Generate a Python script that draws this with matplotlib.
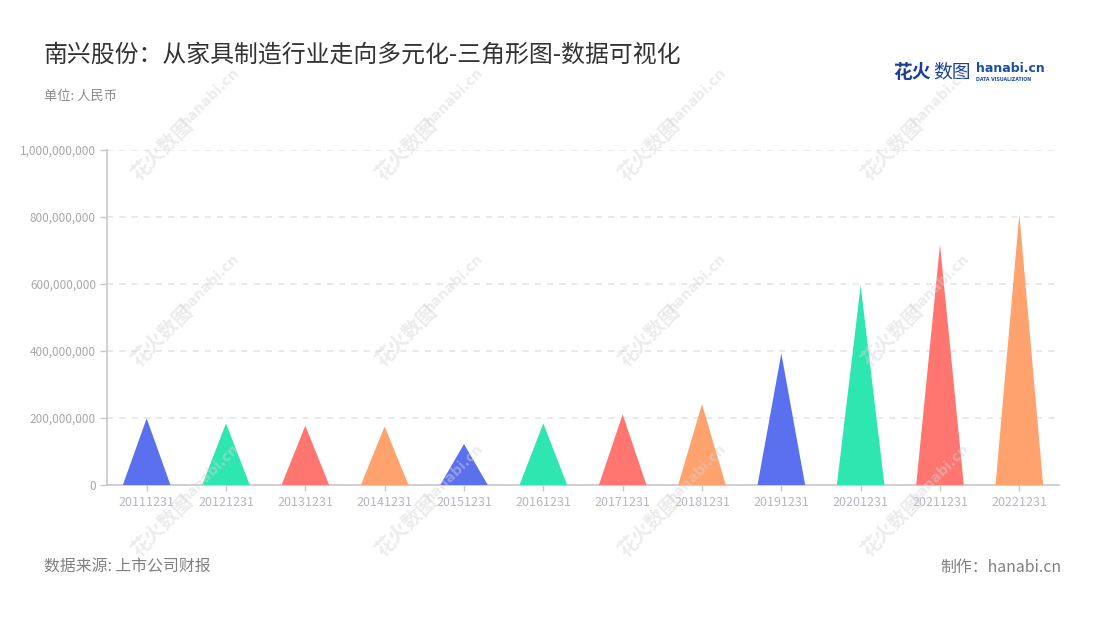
import matplotlib
matplotlib.use("Agg")
import matplotlib.pyplot as plt
import numpy as np
from matplotlib.ticker import FuncFormatter

plt.rcParams['font.family'] = ['Noto Sans CJK SC', 'DejaVu Sans']

categories = ['20111231', '20121231', '20131231', '20141231', '20151231', '20161231',
              '20171231', '20181231', '20191231', '20201231', '20211231', '20221231']
values = [198.5e6, 183.6e6, 176.6e6, 174.6e6, 122e6, 183.6e6,
          210.4e6, 241e6, 392e6, 595e6, 717e6, 806.5e6]
palette = ['#5A70EE', '#2DE6B0', '#FF7670', '#FFA26E']
yticks = [0, 200e6, 400e6, 600e6, 800e6, 1000e6]

title = '南兴股份：从家具制造行业走向多元化-三角形图-数据可视化'
subtitle = '单位: 人民币'
source = '数据来源: 上市公司财报'
maker = '制作：hanabi.cn'

W, H = 1100, 620
fig = plt.figure(figsize=(W / 100, H / 100), dpi=100)
fig.patch.set_facecolor('white')

left, right, bottom, top = 107, 1059, 485, 149.5
ax = fig.add_axes([left / W, 1 - bottom / H, (right - left) / W, (bottom - top) / H])

half = 0.3
for i, v in enumerate(values):
    ax.fill([i - half, i, i + half], [0, v, 0], color=palette[i % 4], lw=0, zorder=3)

ax.set_xlim(-0.5, len(categories) - 0.5)
ax.set_ylim(0, 1e9)
ax.set_xticks(range(len(categories)))
ax.set_xticklabels(categories)
ax.set_yticks(yticks)
ax.yaxis.set_major_formatter(FuncFormatter(lambda v, p: f'{int(v):,}'))

for s in ['top', 'right']:
    ax.spines[s].set_visible(False)
for s in ['left', 'bottom']:
    ax.spines[s].set_color('#c8c8c8')
    ax.spines[s].set_linewidth(1.2)

ax.tick_params(axis='y', colors='#c8c8c8', labelcolor='#a8a8a8', labelsize=8.5, length=5, width=1, pad=3)
ax.tick_params(axis='x', colors='#c8c8c8', labelcolor='#b4b6c4', labelsize=9, length=4, width=1, pad=4)
ax.grid(axis='y', color='#e3e3e3', linestyle=(0, (4, 4)), linewidth=1.1, zorder=0)
ax.set_axisbelow(True)

# Title & texts
fig.text(44 / W, 1 - 55 / H, title, fontsize=17.2, color='#333333', va='center', ha='left')
fig.text(44 / W, 1 - 96 / H, subtitle, fontsize=9.5, color='#8a8a8a', va='center', ha='left')
fig.text(44 / W, 1 - 567 / H, source, fontsize=11.4, color='#808080', va='center', ha='left')
fig.text(1061 / W, 1 - 567 / H, maker, fontsize=11.4, color='#808080', va='center', ha='right')

# Logo
fig.text(893 / W, 1 - 72 / H, '花火', fontsize=13.5, color='#1c3f96', va='center', ha='left', fontweight='bold')
fig.text(933 / W, 1 - 72 / H, '数图', fontsize=13.5, color='#1c3f96', va='center', ha='left')
fig.text(976 / W, 1 - 69 / H, 'hanabi.cn', fontsize=9, color='#1c4fa6', va='center', ha='left',
         fontweight='bold', family=['DejaVu Sans'])
fig.text(976 / W, 1 - 79.5 / H, 'DATA VISUALIZATION', fontsize=3.4, color='#1c4fa6', va='center', ha='left',
         family=['DejaVu Sans'], fontweight='bold')

# Watermarks
wm_x = [183, 427, 670, 913]
wm_y = [127, 313, 503]
for cx in wm_x:
    for cy in wm_y:
        fig.text((cx - 20) / W, 1 - (cy + 23) / H, '花火数图', fontsize=14, color='#d5d5d5', alpha=0.45,
                 rotation=45, ha='center', va='center', rotation_mode='anchor', fontweight='bold', zorder=10)
        fig.text((cx + 27) / W, 1 - (cy - 30) / H, 'hanabi.cn', fontsize=10, color='#d5d5d5', alpha=0.45,
                 rotation=45, ha='center', va='center', rotation_mode='anchor', fontweight='bold', zorder=10,
                 family=['DejaVu Sans'])

fig.savefig('out.png', dpi=100, facecolor='white')
